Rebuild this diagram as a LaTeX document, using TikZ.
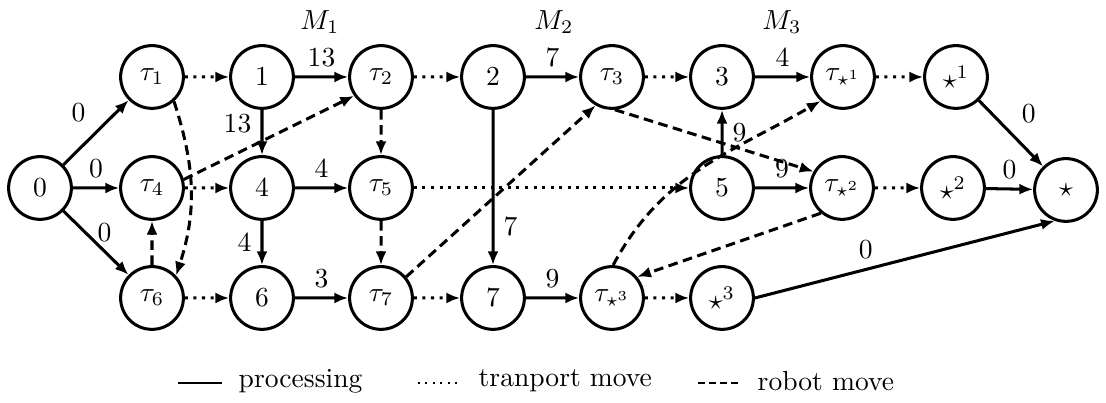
\documentclass[tikz,border=0pt]{standalone}
\usepackage{amsfonts, amsmath, amssymb}
\usepackage{tikz}
\usetikzlibrary{arrows.meta}

\begin{document}
\begin{tikzpicture}[scale=0.1275,
  state/.style={circle,draw,line width=1.1pt,minimum size=0.8cm,inner sep=0pt},
  proc/.style={-{Latex[length=5pt,width=4pt]},line width=1.1pt},
  trans/.style={proc,dotted},
  robot/.style={proc,dash pattern=on 3.5pt off 2pt}]
\useasboundingbox (0,0) rectangle (110.6,40.3);

%put nodes
%column 0
\node[state] (n0) at (4.0,21.5) {$0$};
%M1
\node[state] (t1) at (15.2,32.6) {$\tau_1$};
\node[state] (t4) at (15.2,21.5) {$\tau_4$};
\node[state] (t6) at (15.2,10.5) {$\tau_6$};
\node[state] (n1) at (26.2,32.6) {$1$};
\node[state] (n4) at (26.2,21.5) {$4$};
\node[state] (n6) at (26.2,10.5) {$6$};
%M2
\node[state] (t2) at (38.1,32.6) {$\tau_2$};
\node[state] (t5) at (38.1,21.5) {$\tau_5$};
\node[state] (t7) at (38.1,10.5) {$\tau_7$};
\node[state] (n2) at (49.3,32.6) {$2$};
\node[state] (n7) at (49.3,10.5) {$7$};
%M3
\node[state] (t3) at (61.2,32.6) {$\tau_3$};
\node[state] (ts3) at (61.2,10.5) {$\tau_{\star^3}$};
\node[state] (n3) at (72.2,32.6) {$3$};
\node[state] (n5) at (72.2,21.5) {$5$};
\node[state] (s3) at (72.2,10.5) {$\star^3$};
%end
\node[state] (ts1) at (84.3,32.6) {$\tau_{\star^1}$};
\node[state] (ts2) at (84.2,21.5) {$\tau_{\star^2}$};
\node[state] (s1) at (95.6,32.6) {$\star^1$};
\node[state] (s2) at (95.3,21.5) {$\star^2$};
\node[state] (s) at (106.6,21.3) {$\star$};

%processing
\draw[proc] (n0) -- node[above left] {$0$} (t1);
\draw[proc] (n0) -- node[above] {$0$} (t4);
\draw[proc] (n0) -- node[above right,inner sep=0pt] {$0$} (t6);
\draw[proc] (n1) -- node[above] {$13$} (t2);
\draw[proc] (n1) -- node[left,pos=0.3] {$13$} (n4);
\draw[proc] (n4) -- node[above] {$4$} (t5);
\draw[proc] (n4) -- node[left] {$4$} (n6);
\draw[proc] (n6) -- node[above] {$3$} (t7);
\draw[proc] (n2) -- node[above] {$7$} (t3);
\draw[proc] (n2) -- node[right,pos=0.75] {$7$} (n7);
\draw[proc] (n7) -- node[above] {$9$} (ts3);
\draw[proc] (n3) -- node[above] {$4$} (ts1);
\draw[proc] (n5) -- node[right] {$9$} (n3);
\draw[proc] (n5) -- node[above] {$9$} (ts2);
\draw[proc] (s1) -- node[above right] {$0$} (s);
\draw[proc] (s2) -- node[above] {$0$} (s);
\draw[proc] (s3.east) -- node[above,pos=0.37] {$0$} (s.-110);

%transport
\draw[trans] (t1) -- (n1);
\draw[trans] (t4) -- (n4);
\draw[trans] (t6) -- (n6);
\draw[trans] (t2) -- (n2);
\draw[trans] (t5) -- (n5);
\draw[trans] (t7) -- (n7);
\draw[trans] (t3) -- (n3);
\draw[trans] (ts3) -- (s3);
\draw[trans] (ts1) -- (s1);
\draw[trans] (ts2) -- (s2);

%robot
\draw[robot] (t1.-48) to[out=-72,in=72] (t6.43);
\draw[robot] (t4.15) -- (t2.-145);
\draw[robot] (t6) -- (t4);
\draw[robot] (t2) -- (t5);
\draw[robot] (t5) -- (t7);
\draw[robot] (t7.40) -- (t3.-120);
\draw[robot] (t3.-85) -- (ts2.150);
\draw[robot] (ts3.88) to[out=62,in=-150] (ts1.-133);
\draw[robot] (ts2.-130) -- (ts3.40);

%machines
\node (m1) at (32.0,38.1) {$M_1$};
\node (m2) at (55.4,38.1) {$M_2$};
\node (m3) at (78.2,38.1) {$M_3$};

%legend
\coordinate (lp1) at (17.8,2.0);
\coordinate (lp2) at (22.2,2.0);
\coordinate (lt1) at (41.8,2.0);
\coordinate (lt2) at (45.8,2.0);
\coordinate (lr1) at (69.8,2.0);
\coordinate (lr2) at (74.2,2.0);
\node[anchor=west] (lproc) at (22.9,2.2) {processing};
\node[anchor=west] (ltrans) at (46.9,2.2) {tranport move};
\node[anchor=west] (lrobot) at (74.8,2.2) {robot move};
\draw[line width=0.7pt] (lp1) -- (lp2);
\draw[line width=0.7pt,dotted] (lt1) -- (lt2);
\draw[line width=0.7pt,dash pattern=on 2.5pt off 1.5pt] (lr1) -- (lr2);
\end{tikzpicture}
\end{document}
